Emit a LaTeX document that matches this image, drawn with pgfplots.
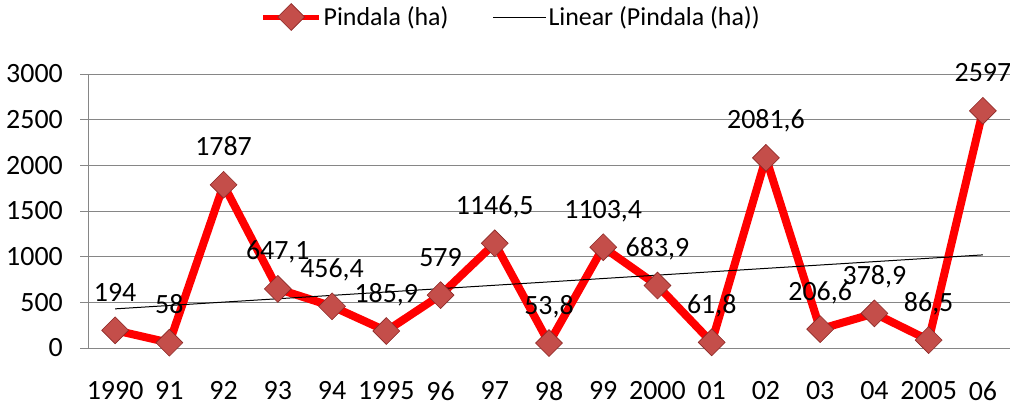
\documentclass[border=0pt]{standalone}
\usepackage{fontspec}
\setmainfont{Carlito}
\usepackage{pgfplots}
\pgfplotsset{compat=1.18}
\definecolor{gridgray}{RGB}{134,134,134}
\definecolor{mkfill}{RGB}{196,78,74}
\definecolor{mkdraw}{RGB}{140,40,38}
\newcommand{\cf}{\fontsize{26}{31}\selectfont}
\newcommand{\nf}{\fontsize{28}{33}\selectfont}
\pgfplotsset{
  legmark/.style={legend image code/.code={\draw[mark repeat=2, mark phase=2, ##1, line width=5bp] plot coordinates {(0bp,0bp) (28bp,0bp) (56bp,0bp)};}},
  legline/.style={legend image code/.code={\draw[##1] (0bp,0bp) -- (53bp,0bp);}},
}
\begin{document}
\begin{tikzpicture}
\path[use as bounding box] (-88bp,-58bp) rectangle (922bp,348bp);
\begin{axis}[
  at={(0,0)}, anchor=south west,
  scale only axis, width=922bp, height=274bp,
  xmin=-0.5, xmax=16.5, ymin=0, ymax=3000,
  clip=false,
  axis x line*=bottom, axis y line*=left,
  axis line style={gridgray, line width=1pt},
  xtick={0,...,16},
  xticklabels={1990,91,92,93,94,1995,96,97,98,99,2000,01,02,03,04,2005,06},
  minor xtick={-0.5,0.5,...,16.5},
  ytick={0,500,...,3000},
  ymajorgrids, major grid style={gridgray, line width=1pt},
  tick align=outside,
  major tick length=8bp, minor tick length=9bp,
  xtick style={draw=none},
  minor tick style={gridgray, line width=1pt, draw=gridgray},
  ytick style={gridgray, line width=1pt},
  /pgf/number format/assume math mode=true,
  /pgf/number format/1000 sep={},
  ticklabel style={font=\nf, text=black},
  xticklabel style={anchor=north, inner sep=0pt, yshift=-25bp},
  yticklabel style={anchor=east, inner sep=0pt, xshift=-17bp},
  legend columns=2,
  legend style={draw=none, fill=none, font=\cf, at={(0.459,1.208)}, anchor=center,
    /tikz/every even column/.append style={column sep=42bp},
    inner sep=0pt},
]
\addplot[red, line width=8bp, mark=square*, mark size=9.5bp,
  mark options={rotate=45, fill=mkfill, draw=mkdraw, line width=0.6bp, solid},
  nodes near coords, point meta=explicit symbolic,
  every node near coord/.append style={font=\nf, text=black, anchor=base, yshift=29bp, inner sep=0pt},
  legmark
] coordinates {
(0,194)[194] (1,58)[58] (2,1787)[1787] (3,647.1)[647,1] (4,456.4)[456,4]
(5,185.9)[185,9] (6,579)[579] (7,1146.5)[1146,5] (8,53.8)[53,8] (9,1103.4)[1103,4]
(10,683.9)[683,9] (11,61.8)[61,8] (12,2081.6)[2081,6] (13,206.6)[206,6]
(14,378.9)[378,9] (15,86.5)[86,5] (16,2597)[2597]
};
\addlegendentry{Pindala (ha)}
\addplot[black, line width=1bp, no marks, legline] coordinates {(0,428.5) (16,1019.4)};
\addlegendentry{Linear (Pindala (ha))}
\end{axis}
\end{tikzpicture}
\end{document}
